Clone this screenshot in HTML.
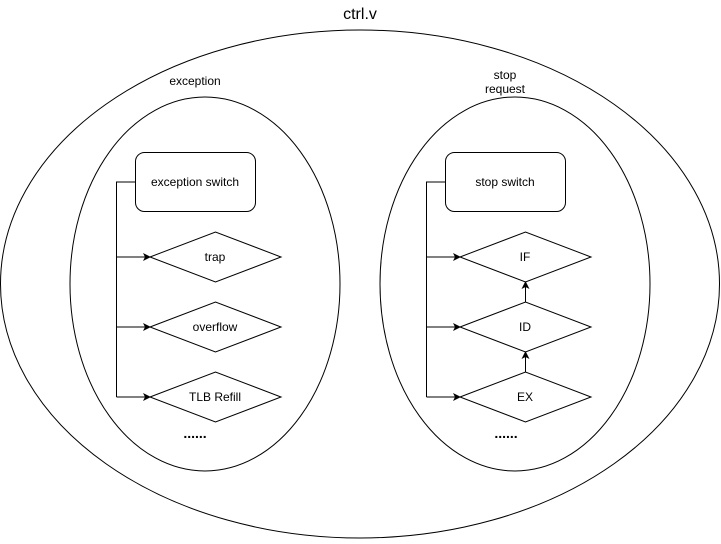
<!DOCTYPE html>
<html><head><style>body{margin:0;background:#fff}</style></head><body>
<svg width="721" height="539" xmlns="http://www.w3.org/2000/svg" font-family="Liberation Sans, Arial, sans-serif">
<defs><marker id="a" markerWidth="8" markerHeight="8" refX="7" refY="4" orient="auto" markerUnits="userSpaceOnUse"><path d="M0,0 L8,4 L0,8 L2,4 z" fill="#000"/></marker></defs>
<g fill="none" stroke="#000" stroke-width="1">
<ellipse cx="360" cy="284" rx="359.5" ry="254"/>
<ellipse cx="205" cy="284" rx="135" ry="187"/>
<ellipse cx="515" cy="284" rx="135" ry="187"/>
<rect x="135.5" y="152.5" width="120" height="59" rx="9"/>
<rect x="445.5" y="152.5" width="120" height="59" rx="9"/>
<path d="M150,257 L215.5,232 L281,257 L215.5,282 Z"/>
<path d="M150,327 L215.5,302 L281,327 L215.5,352 Z"/>
<path d="M150,397 L215.5,372 L281,397 L215.5,422 Z"/>
<path d="M460,257 L525.5,232 L591,257 L525.5,282 Z"/>
<path d="M460,327 L525.5,302 L591,327 L525.5,352 Z"/>
<path d="M460,397 L525.5,372 L591,397 L525.5,422 Z"/>
<path d="M135,182 H116.5 V397"/>
<path d="M445,182 H426.5 V397"/>
<path d="M116.5,257 H150" marker-end="url(#a)"/>
<path d="M116.5,327 H150" marker-end="url(#a)"/>
<path d="M116.5,397 H150" marker-end="url(#a)"/>
<path d="M426.5,257 H460" marker-end="url(#a)"/>
<path d="M426.5,327 H460" marker-end="url(#a)"/>
<path d="M426.5,397 H460" marker-end="url(#a)"/>
<path d="M525.5,372 V352" marker-end="url(#a)"/>
<path d="M525.5,302 V282" marker-end="url(#a)"/>
</g>
<g font-size="12" text-anchor="middle" fill="#000">
<text x="360" y="19" font-size="16">ctrl.v</text>
<text x="195" y="85">exception</text>
<text x="505" y="79">stop</text>
<text x="505" y="93">request</text>
<text x="195" y="186">exception switch</text>
<text x="505" y="186">stop switch</text>
<text x="215" y="261">trap</text>
<text x="215" y="331">overflow</text>
<text x="215" y="401">TLB Refill</text>
<text x="525" y="261">IF</text>
<text x="525" y="331">ID</text>
<text x="525" y="401">EX</text>
<text x="195" y="438" font-weight="bold" font-size="14">......</text>
<text x="506" y="438" font-weight="bold" font-size="14">......</text>
</g>
</svg>
</body></html>
